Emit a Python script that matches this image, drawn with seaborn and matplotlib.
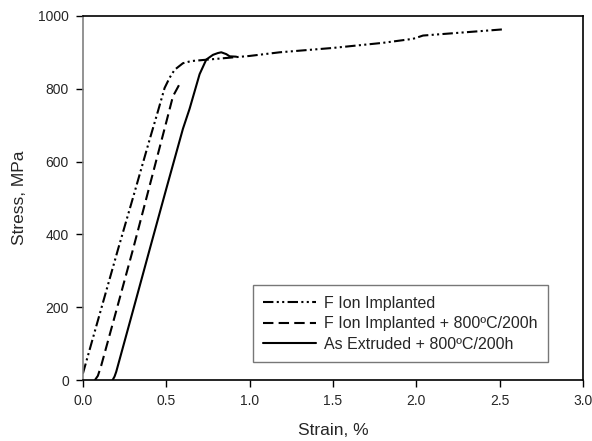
import numpy as np
import pandas as pd
import matplotlib
matplotlib.use("Agg")
import matplotlib.pyplot as plt
import seaborn as sns

# curve data (strain in %, stress in MPa)
ion_strain = [0.0, 0.1, 0.21, 0.3, 0.4, 0.45, 0.49, 0.52, 0.55, 0.6, 0.65, 0.7,
              0.85, 1.0, 1.18, 1.5, 1.8, 1.98, 2.04, 2.38, 2.52]
ion_stress = [18, 180, 358, 500, 660, 738, 802, 830, 852, 870, 876, 878,
              884, 890, 900, 912, 926, 937, 946, 958, 963]

ion_ht_strain = [0.072, 0.09, 0.11, 0.2, 0.3, 0.4, 0.5, 0.54, 0.58]
ion_ht_stress = [0, 12, 40, 190, 358, 533, 708, 779, 813]

extr_strain = [0.178, 0.19, 0.2, 0.3, 0.4, 0.5, 0.6, 0.64, 0.7, 0.74, 0.78,
               0.81, 0.83, 0.86, 0.88, 0.92]
extr_stress = [0, 10, 23, 190, 358, 525, 690, 745, 840, 880, 893,
               898, 900, 895, 889, 888]

series_names = ["F Ion Implanted", "F Ion Implanted + 800ºC/200h",
                "As Extruded + 800ºC/200h"]

x_ticks = [0.0, 0.5, 1.0, 1.5, 2.0, 2.5, 3.0]
y_ticks = [0, 200, 400, 600, 800, 1000]

frames = []
for name, xs, ys in zip(series_names,
                        [ion_strain, ion_ht_strain, extr_strain],
                        [ion_stress, ion_ht_stress, extr_stress]):
    frames.append(pd.DataFrame({"Strain": xs, "Stress": ys, "Series": name}))
df = pd.concat(frames, ignore_index=True)

sns.set_style("white")
plt.rcParams['font.family'] = ['Liberation Sans', 'DejaVu Sans']

fig = plt.figure(figsize=(5.92, 4.41), dpi=100)
ax = fig.add_axes([0.140, 0.138, 0.845, 0.826])

dash_styles = {
    series_names[0]: (5, 1.6, 1, 1.6, 1, 1.6),
    series_names[1]: (5, 2.5),
    series_names[2]: "",
}
sns.lineplot(data=df, x="Strain", y="Stress", style="Series",
             style_order=series_names, dashes=dash_styles, color="black",
             sort=False, estimator=None, linewidth=1.5, ax=ax, legend=False)

ax.set_xlim(0, 3.0)
ax.set_ylim(0, 1000)
ax.set_xticks(x_ticks)
ax.set_xticklabels([f"{t:.1f}" for t in x_ticks])
ax.set_yticks(y_ticks)
ax.tick_params(axis='both', direction='out', length=5, width=1, labelsize=10,
               pad=5, color='black', bottom=True, left=True)
ax.set_xlabel("Strain, %", fontsize=12.5, labelpad=11)
ax.set_ylabel("Stress, MPa", fontsize=12.5, labelpad=8)

for side in ["top", "right", "bottom"]:
    ax.spines[side].set_color("black")
    ax.spines[side].set_linewidth(1.2)
ax.spines["left"].set_color("#808080")
ax.spines["left"].set_linewidth(1.2)

handles = ax.get_lines()
leg = ax.legend(handles, series_names, loc="lower left",
                bbox_to_anchor=(0.34, 0.049), fontsize=11.5, frameon=True,
                fancybox=False, edgecolor="#555555", handlelength=3.3,
                handletextpad=0.5, labelspacing=0.35, borderpad=0.65,
                borderaxespad=0)
leg.get_frame().set_linewidth(1.0)

plt.savefig("out.png", dpi=100)
plt.close()
